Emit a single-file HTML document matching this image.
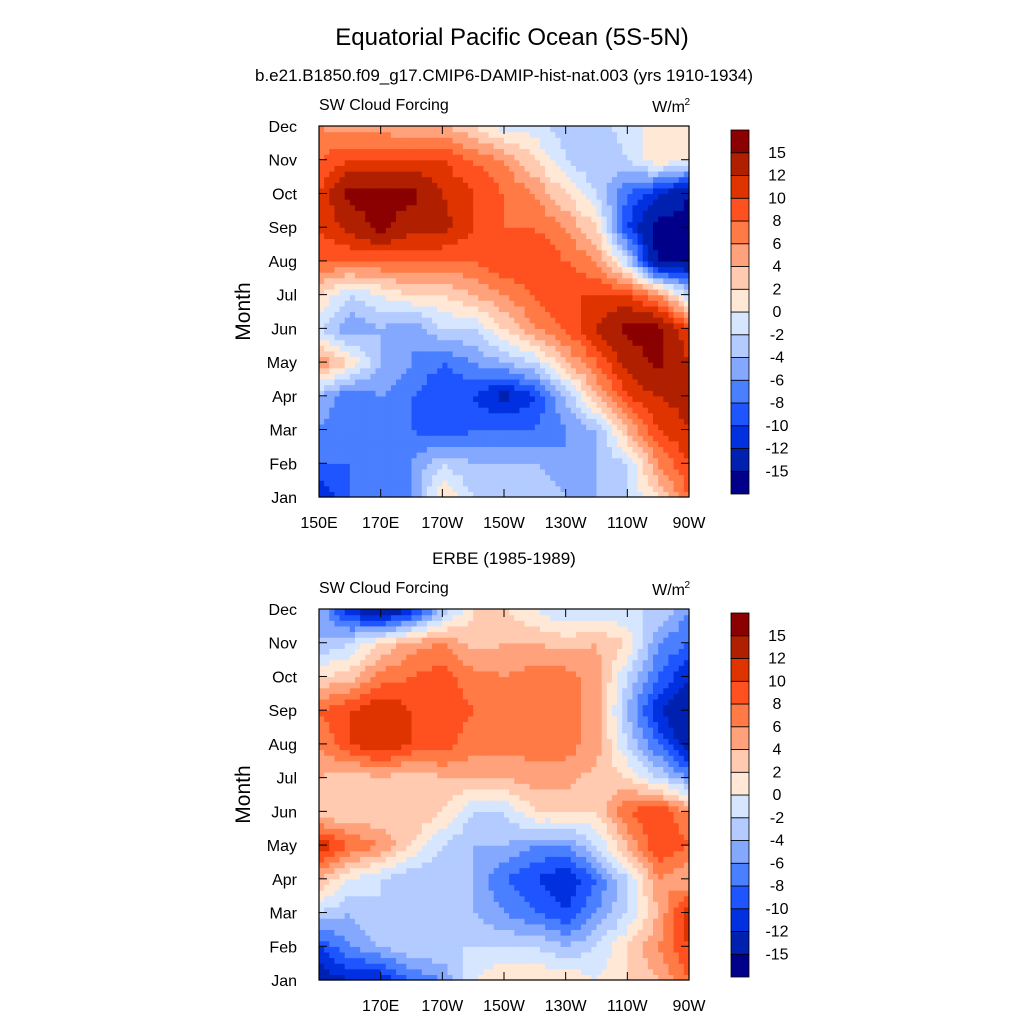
<!DOCTYPE html>
<html><head><meta charset="utf-8"><style>
body{margin:0;background:#fff;}
svg text{font-family:"Liberation Sans",sans-serif;fill:#000;}
</style></head><body>
<svg id="chart" width="1024" height="1024" xmlns="http://www.w3.org/2000/svg">
<text x="512" y="45" font-size="24" text-anchor="middle">Equatorial Pacific Ocean (5S-5N)</text>
<text x="504" y="81" font-size="17" text-anchor="middle">b.e21.B1850.f09_g17.CMIP6-DAMIP-hist-nat.003 (yrs 1910-1934)</text>
<text x="504" y="564" font-size="17" text-anchor="middle">ERBE (1985-1989)</text>
</svg>
<script>
const months=["Jan","Feb","Mar","Apr","May","Jun","Jul","Aug","Sep","Oct","Nov","Dec"];
const lons=[150,160,170,180,190,200,210,220,230,240,250,260,270];
const lonTicks=[150,170,190,210,230,250,270];
const lonTickLabels=["150E","170E","170W","150W","130W","110W","90W"];
const levels=[-15,-12,-10,-8,-6,-4,-2,0,2,4,6,8,10,12,15];
const levelLabels=["-15","-12","-10","-8","-6","-4","-2","0","2","4","6","8","10","12","15"];
const colors=["#00008b","#0020b0","#0030e0","#1f55ff","#4a7fff","#85a8ff","#b3cbff","#d6e6ff","#ffe8d6","#ffcab0","#ffa27c","#ff7a45","#ff5020","#e03400","#b02000","#8b0000"];
// rows Jan..Dec, columns lons
const modelData=[
[-12,-8,-8,-6,2,-2,-2,-2,-4,-4,-2,2,8],
[-8,-8,-6,-6,-2,-4,-4,-4,-6,-4,-2,6,10],
[-6,-8,-6,-8,-10,-8,-8,-8,-6,-4,4,10,12],
[-4,-8,-6,-8,-10,-10,-13,-10,-4,4,10,12,13],
[6,2,-4,-6,-8,-6,-4,-2,4,8,13,16,12],
[-2,-6,-4,-6,-2,-2,2,6,8,12,16,16,10],
[2,-2,0,2,2,4,6,8,10,10,10,6,-2],
[8,8,8,8,8,8,10,10,8,6,-2,-16,-16],
[10,13,16,13,13,10,8,8,6,2,-10,-16,-16],
[10,16,16,16,12,10,8,6,2,-2,-8,-12,-15],
[8,10,10,10,10,8,6,2,-2,-4,-2,2,0],
[6,5,5,4,4,2,-1,-1,-3,-3,-1,1,1]];
const obsData=[
[-14,-12,-12,-8,-6,0,2,2,2,0,2,4,8],
[-10,-6,-4,-2,-2,-2,-2,-2,-4,-2,2,6,10],
[-2,-4,-2,-2,-4,-4,-6,-8,-10,-6,-2,4,12],
[4,0,-2,-4,-4,-4,-8,-10,-12,-8,-2,6,4],
[12,8,6,2,-2,-4,-4,-6,-6,-2,4,10,8],
[2,2,2,4,2,-2,-2,2,2,2,8,10,6],
[4,2,4,2,4,4,4,5,5,3,2,-2,-6],
[6,10,12,10,9,7,7,7,7,5,-2,-8,-14],
[8,10,12,10,9,8,7,7,7,5,-4,-12,-15],
[2,3,7,8,9,7,6,7,7,5,-2,-8,-12],
[-4,-2,2,5,6,3,4,4,3,4,2,-6,-8],
[-4,-12,-16,-12,-4,2,2,0,-2,-2,-2,-2,-6]];
const NS="http://www.w3.org/2000/svg";
const svg=document.getElementById('chart');
function mk(t,a,p){const e=document.createElementNS(NS,t);for(const k in a)e.setAttribute(k,a[k]);(p||svg).appendChild(e);return e;}
function colorFor(v){let i=0;while(i<levels.length&&v>=levels[i])i++;return colors[i];}
function panel(data,top,name,showFirstLon){
 const L=319,R=689,T=top,B=top+371;
 const xs=lon=>L+(lon-150)/120*(R-L);
 const ys=m=>B-m/11*(B-T);
 const g=mk('g',{});
 
 
 const S=6;
 for(let r=0;r<months.length-1;r++)for(let c=0;c<lons.length-1;c++){
  for(let i=0;i<S;i++)for(let j=0;j<S;j++){
   const fx=(i+0.5)/S,fy=(j+0.5)/S;
   const v=data[r][c]*(1-fx)*(1-fy)+data[r][c+1]*fx*(1-fy)+data[r+1][c]*(1-fx)*fy+data[r+1][c+1]*fx*fy;
   const x0=xs(lons[c]+10*i/S),x1=xs(lons[c]+10*(i+1)/S);
   const y0=ys(r+(j+1)/S),y1=ys(r+j/S);
   const e=mk('rect',{x:x0.toFixed(2),y:y0.toFixed(2),width:(x1-x0+0.6).toFixed(2),height:(y1-y0+0.6).toFixed(2),fill:colorFor(v)},g);
   
   
  }
 }
 const fr=mk('rect',{x:L,y:T,width:R-L,height:B-T,fill:'none',stroke:'#000','stroke-width':1.2});
 
 
 months.forEach((m,k)=>{const y=ys(k);
  mk('line',{x1:L,x2:L+8,y1:y,y2:y,stroke:'#000'});mk('line',{x1:R-8,x2:R,y1:y,y2:y,stroke:'#000'});
  const t=mk('text',{x:L-22,y:y+6,'font-size':16,'text-anchor':'end'});t.textContent=m;
  
  
 });
 lonTicks.forEach((lo,k)=>{const x=xs(lo);
  mk('line',{x1:x,x2:x,y1:B,y2:B-8,stroke:'#000'});mk('line',{x1:x,x2:x,y1:T,y2:T+8,stroke:'#000'});
  if(k===0&&!showFirstLon)return;
  const t=mk('text',{x:x,y:B+31,'font-size':16,'text-anchor':'middle'});t.textContent=lonTickLabels[k];
  
  
 });
 const yl=mk('text',{x:0,y:0,'font-size':21,'text-anchor':'middle',transform:`translate(250,${(T+B)/2}) rotate(-90)`});yl.textContent='Month';
 
 
 const lt=mk('text',{x:L,y:T-16,'font-size':16});lt.textContent='SW Cloud Forcing';
 
 
 const ut=mk('text',{x:R-4,y:T-14,'font-size':16,'text-anchor':'end'});ut.textContent='W/m';
 
 
 const sp=mk('text',{x:R+1,y:T-21,'font-size':10,'text-anchor':'end'});sp.textContent='2';
 
 
 const cT=T+4,cB=T+368,cX=731,cW=18,h=(cB-cT)/colors.length;
 colors.forEach((c,k)=>{const e=mk('rect',{x:cX,y:cB-(k+1)*h,width:cW,height:h,fill:c,stroke:'#000','stroke-width':0.8});
  
  });
 levelLabels.forEach((lab,k)=>{const t=mk('text',{x:cX+cW+28,y:cB-(k+1)*h+5,'font-size':16,'text-anchor':'middle'});t.textContent=lab;
  
  });
}
panel(modelData,126,'model-panel',true);
panel(obsData,609,'obs-panel',false);
</script>
</body></html>
